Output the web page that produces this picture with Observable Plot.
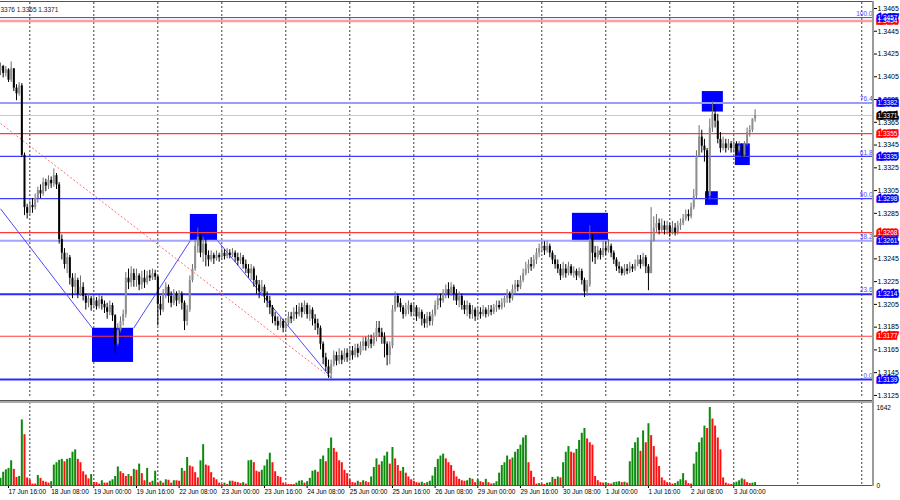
<!DOCTYPE html>
<html><head><meta charset="utf-8">
<script src="https://cdn.jsdelivr.net/npm/d3@7"></script>
<script src="https://cdn.jsdelivr.net/npm/@observablehq/plot@0.6"></script>
<style>
html,body{margin:0;padding:0;background:#fff;}
#chart{position:relative;width:900px;height:500px;overflow:hidden;font-family:"Liberation Sans",Arial,sans-serif;}
#chart .ln{position:absolute;}
#vol [aria-label^="x-axis"] text{text-anchor:start;}
</style></head><body><div id="chart"><div id="main"></div><div id="vol"></div></div>
<script>
// ---- data (prices in pips above 1.3000) ----
const firstOpen = 410;
const closePips = [
414,408,411,402,412,395,390,397,336,290,
285,292,290,298,305,302,312,309,314,311,
318,310,262,250,240,246,228,220,226,214,
220,212,206,210,204,208,203,209,205,202,
198,204,195,170,182,190,196,228,224,232,
226,230,222,228,224,230,228,232,229,205,
200,214,220,212,206,214,208,214,206,190,
200,226,236,256,264,250,258,248,244,248,
245,248,246,250,247,250,248,250,246,243,
246,240,236,232,236,226,222,216,220,212,
208,202,194,190,186,190,184,188,194,192,
198,196,202,198,204,196,200,192,188,184,
170,158,150,144,152,160,155,160,156,162,
158,164,160,166,162,168,172,168,174,170,
176,184,180,176,170,160,168,200,212,206,
202,196,200,204,198,202,194,198,192,188,
194,190,196,204,210,208,214,218,214,220,
214,208,212,204,200,204,196,200,194,198,
196,200,196,200,198,202,204,202,206,210,
214,210,218,222,220,226,232,236,240,238,
244,250,254,256,252,256,250,244,240,236,
230,236,232,238,232,234,230,234,226,216,
222,262,250,246,252,248,254,252,256,250,
244,238,236,232,236,234,238,236,240,244,
240,246,238,232,260,272,276,270,274,270,
274,268,272,268,274,276,280,284,282,290,
300,335,352,344,340,300,360,372,366,350,
342,346,342,346,342,345,340,344,336,346,
356,358,368,371];
const highPips = [
417,415,414,412,418,412,398,400,399,338,
293,296,298,302,308,310,316,315,318,317,
324,320,312,266,254,250,248,232,232,228,
230,224,214,214,212,212,211,213,212,208,
206,208,206,196,188,194,200,233,236,238,
236,236,232,234,235,234,235,236,235,230,
212,218,224,222,216,218,216,217,216,208,
204,230,240,262,272,266,264,262,252,252,
250,252,250,254,253,254,253,254,252,250,
250,248,244,240,240,238,230,226,226,222,
216,212,204,198,194,193,192,192,198,198,
202,204,206,206,208,206,204,202,196,192,
186,172,162,156,156,164,163,166,164,166,
166,168,168,170,170,172,176,176,178,178,
180,190,190,184,180,172,172,204,216,214,
210,204,206,208,206,206,204,202,200,196,
198,198,200,208,214,214,218,222,224,224,
222,218,216,214,208,208,206,204,202,202,
202,204,202,204,204,205,208,208,210,212,
218,216,222,226,226,230,236,242,244,246,
248,254,258,260,260,260,258,252,248,244,
240,242,240,242,240,238,236,237,236,228,
226,274,266,256,256,254,260,260,262,258,
252,246,242,238,240,240,242,240,244,248,
248,250,248,240,290,282,284,280,280,278,
278,276,278,276,278,280,284,288,288,294,
306,340,362,358,350,342,368,383,380,372,
356,352,350,350,348,349,348,348,346,348,
360,362,366,376];
const lowPips = [
406,404,405,400,400,392,384,388,334,283,
280,283,285,288,294,298,300,304,306,307,
308,306,258,244,236,232,222,210,214,210,
212,208,200,202,199,201,200,201,200,197,
192,195,190,162,168,180,186,193,218,220,
220,220,217,218,219,222,225,226,226,186,
195,198,210,206,202,204,203,205,200,182,
186,198,224,234,250,246,242,238,238,242,
240,243,242,244,244,245,245,246,242,239,
240,236,232,228,226,220,214,210,212,206,
202,196,188,186,182,184,180,182,186,188,
190,192,194,193,196,192,190,186,182,178,
165,152,146,140,140,150,151,152,152,154,
154,155,156,158,158,160,164,164,166,166,
168,172,176,170,158,151,152,166,198,202,
198,192,194,196,194,194,190,192,186,184,
184,186,186,194,200,202,206,210,210,212,
208,204,202,200,196,194,192,192,190,192,
192,194,193,194,195,196,198,200,200,202,
206,206,208,214,216,218,224,230,232,234,
236,240,246,250,248,250,246,240,236,232,
226,228,228,230,230,228,226,228,222,211,
212,220,242,240,244,244,246,248,250,246,
240,234,232,230,230,231,232,233,234,238,
236,238,232,217,232,262,268,266,268,266,
266,264,266,265,266,270,274,278,278,280,
288,298,334,338,330,296,298,356,360,346,
338,340,338,340,338,338,336,338,334,334,
344,352,356,365];
const volumes = [
150,280,330,360,520,340,170,190,1380,1070,
160,110,30,30,210,150,90,70,50,80,
430,480,530,550,500,550,570,700,750,550,
480,290,220,140,230,65,60,30,100,50,
50,90,120,190,390,290,250,190,230,190,
340,320,450,250,100,360,60,90,300,50,
90,50,120,110,50,100,100,90,360,300,
590,410,390,270,160,520,860,430,410,270,
160,120,50,20,50,20,90,90,70,60,
40,60,30,520,530,480,300,280,320,410,
540,680,480,290,190,170,50,20,20,20,
20,50,90,100,50,80,150,300,320,280,
550,620,500,780,1000,780,700,520,480,320,
250,120,60,50,90,60,100,80,60,180,
380,560,430,500,620,700,450,800,560,420,
300,380,260,180,120,90,60,50,70,40,
60,90,200,380,550,620,660,560,480,420,
300,180,130,100,90,100,150,130,60,120,
80,60,130,60,30,40,80,260,420,480,
620,540,580,700,760,850,1000,1050,480,300,
170,30,40,30,20,50,60,170,130,180,
160,480,700,820,700,680,760,950,1100,1200,
980,900,850,190,100,60,50,60,40,30,
60,70,80,60,70,50,500,780,900,1000,
720,1150,900,1300,1050,820,600,400,160,100,
60,40,30,40,80,120,250,100,40,30,
450,700,900,1000,1250,1200,1642,1400,1250,1000,
750,160,50,30,20,50,70,100,140,120,
60,40,50,60];
const timeTickIdx = [3,19,35,51,67,83,99,115,131,147,163,179,195,211,227,243,259,275];
const timeTickLabels = ["17 Jun 16:00","18 Jun 08:00","19 Jun 00:00","19 Jun 16:00","22 Jun 08:00","23 Jun 00:00","23 Jun 16:00","24 Jun 08:00","25 Jun 00:00","25 Jun 16:00","26 Jun 08:00","29 Jun 00:00","29 Jun 16:00","30 Jun 08:00","1 Jul 00:00","1 Jul 16:00","2 Jul 08:00","3 Jul 00:00"];
const dayGridIdx = [11,35,59,83,107,131,155,179,203,227,251,275,299,323];
const priceTicks = [1.3125,1.3145,1.3165,1.3185,1.3205,1.3225,1.3245,1.3265,1.3285,1.3305,1.3325,1.3345,1.3365,1.3385,1.3405,1.3425,1.3445,1.3465];
const fibPrices = [1.3457,1.3382,1.3335,1.3298,1.3261,1.3214,1.3139];
const fibLabels = ["100.0","76.4","61.8","50.0","38.2","23.6","0.0"];
const redLevels = [1.3454,1.3355,1.3268,1.3177];
const bidPrice = 1.3371;
const boxI1 = [34.5,71.2,214.5,263.2,264.4,275.6];
const boxI2 = [49.9,81.4,228,271.1,269.2,281.2];
const boxTop = [1.3184,1.3284,1.3285,1.3392,1.3304,1.3346];
const boxBottom = [1.3154,1.3261,1.3260,1.3374,1.3292,1.3327];
const trendI1 = [0,49.9,81.4], trendP1 = [1.3289,1.3184,1.3261];
const trendI2 = [34.5,71.2,124.1], trendP2 = [1.3184,1.3261,1.3140];
const channelI = [0,124.1], channelP = [1.3364,1.3140];
const volumeTicks = [0,1642];
const headerText = "1.3376 1.3365 1.3371";

// ---- build ----
const P = v => 1.3 + v / 10000;
const n = Math.min(closePips.length, highPips.length, lowPips.length, volumes.length);
const candles = [];
for (let i = 0; i < n; i++) {
  const o = i === 0 ? firstOpen : closePips[i - 1], c = closePips[i];
  candles.push({i, open: P(o), close: P(c), high: P(Math.max(highPips[i], o, c)), low: P(Math.min(lowPips[i], o, c)), up: c >= o});
}
const volData = volumes.slice(0, n).map((v, i) => ({i, v, color: (i === 0 || v > volumes[i - 1]) ? "#0b8a0b" : "#ff1010"}));
const fibs = fibPrices.map((p, k) => ({price: p, label: fibLabels[k]}));
const fibStyle = {"100.0": ["#3c3cff", 1], "76.4": ["#9a9aff", 2], "61.8": ["#3c3cff", 1.3], "50.0": ["#3c3cff", 1.3], "38.2": ["#a4a4ff", 2], "23.6": ["#2a2aff", 2], "0.0": ["#2a2aff", 2]};
const reds = redLevels.map((p, k) => ({price: p, first: k === 0}));
const boxes = boxI1.map((d, k) => ({i1: d, i2: boxI2[k], top: boxTop[k], bottom: boxBottom[k]}));
const trends = trendI1.map((d, k) => ({i1: d, p1: trendP1[k], i2: trendI2[k], p2: trendP2[k]}));
const channel = [{i1: channelI[0], p1: channelP[0], i2: channelI[1], p2: channelP[1]}];
const tags = [
  ...redLevels.map(p => ({price: p, color: "#ff0000"})),
  ...fibPrices.map(p => ({price: p, color: "#0000ff"})),
  {price: bidPrice, color: "#000000"}
];
const labelMap = new Map(timeTickIdx.map((d, k) => [d, timeTickLabels[k]]));
const xDomain = [0, 327.4];
const font = '"Liberation Sans", Arial, sans-serif';
const hasAxisMark = typeof Plot.axisY === "function";

const priceAxis = hasAxisMark
  ? [Plot.axisY(priceTicks, {anchor: "right", tickSize: 3, tickPadding: 1, tickFormat: d => d.toFixed(4), fontSize: 7, label: null})]
  : [];

const main = Plot.plot({
  width: 900, height: 400,
  marginTop: 2, marginBottom: 2, marginLeft: 0, marginRight: 27,
  style: {background: "white", fontFamily: font, fontSize: "7px", color: "#000"},
  x: {domain: xDomain, axis: null},
  y: hasAxisMark
    ? {domain: [1.312229, 1.347027]}
    : {domain: [1.312229, 1.347027], axis: "right", ticks: priceTicks, tickFormat: d => d.toFixed(4), tickSize: 3, tickPadding: 1, label: null},
  marks: [
    Plot.ruleX(dayGridIdx, {x: d => d, stroke: "#3a3a3a", strokeDasharray: "2,2", strokeWidth: 1}),
    Plot.rect(boxes, {x1: "i1", x2: "i2", y1: "bottom", y2: "top", fill: "#0000ff"}),
    Plot.ruleY(reds, {y: "price", stroke: d => d.first ? "#ff9c9c" : "#ff3b3b", strokeWidth: d => d.first ? 2.6 : 1.2}),
    Plot.ruleY(fibs, {y: "price", stroke: d => fibStyle[d.label][0], strokeWidth: d => fibStyle[d.label][1]}),
    Plot.ruleY([bidPrice], {y: d => d, stroke: "#c8c8c8", strokeWidth: 1}),
    Plot.link(channel, {x1: "i1", y1: "p1", x2: "i2", y2: "p2", stroke: "#ff7070", strokeDasharray: "2,2", strokeWidth: 1}),
    Plot.link(trends, {x1: "i1", y1: "p1", x2: "i2", y2: "p2", stroke: "#4a4aff", strokeWidth: 1}),
    Plot.ruleX(candles, {x: "i", y1: "low", y2: "high", stroke: d => d.up ? "#6e6e6e" : "#000000", strokeWidth: 1}),
    Plot.ruleX(candles, {x: "i", y1: "open", y2: "close", stroke: d => d.up ? "#8e8e8e" : "#000000", strokeWidth: 2}),
    Plot.text(fibs, {y: "price", text: "label", frameAnchor: "right", textAnchor: "end", dx: -1, dy: -4, fill: "#4d4dff", fontSize: 6.5}),
    ...priceAxis,
    Plot.text(tags, {y: "price", text: d => d.price.toFixed(4), frameAnchor: "right", textAnchor: "start", dx: 4, fill: d => d.color, stroke: d => d.color, strokeWidth: 3.4, strokeLinejoin: "miter", fontSize: 6.5}),
    Plot.text(tags, {y: "price", text: d => d.price.toFixed(4), frameAnchor: "right", textAnchor: "start", dx: 4, fill: "white", fontSize: 6.5}),
    Plot.text([headerText], {text: d => d, frameAnchor: "top-left", textAnchor: "start", dx: -5.5, dy: 5, fill: "#222", fontSize: 6.5})
  ]
});

const vol = Plot.plot({
  width: 900, height: 100,
  marginTop: 2, marginBottom: 15, marginLeft: 0, marginRight: 27,
  style: {background: "white", fontFamily: font, fontSize: "6.5px", color: "#000"},
  x: {domain: xDomain, ticks: timeTickIdx, tickFormat: d => labelMap.get(d), tickSize: 3, tickPadding: 1, label: null},
  y: {domain: [0, 1747], axis: "right", ticks: volumeTicks, tickFormat: d => String(d), tickSize: 0, tickPadding: 3, label: null},
  marks: [
    Plot.ruleX(dayGridIdx, {x: d => d, stroke: "#3a3a3a", strokeDasharray: "2,2", strokeWidth: 1}),
    Plot.ruleX(volData, {x: "i", y1: 0, y2: "v", stroke: d => d.color, strokeWidth: 2})
  ]
});

const mainDiv = document.getElementById("main");
const volDiv = document.getElementById("vol");
mainDiv.style.cssText = "position:absolute;left:0;top:0;width:900px;height:400px;";
volDiv.style.cssText = "position:absolute;left:0;top:400px;width:900px;height:100px;";
mainDiv.appendChild(main);
volDiv.appendChild(vol);

// panel frame lines
const root = document.getElementById("chart");
function line(l, t, w, h, c) {
  const d = document.createElement("div");
  d.className = "ln";
  d.style.cssText = `left:${l}px;top:${t}px;width:${w}px;height:${h}px;background:${c};`;
  root.appendChild(d);
}
line(0, 1, 873, 1, "#555");
line(0, 400, 873, 1, "#555");
line(0, 401, 873, 2, "#a8a8a8");
line(0, 485, 873, 1, "#555");
line(872, 1, 2, 485, "#9a9a9a");
</script></body></html>
